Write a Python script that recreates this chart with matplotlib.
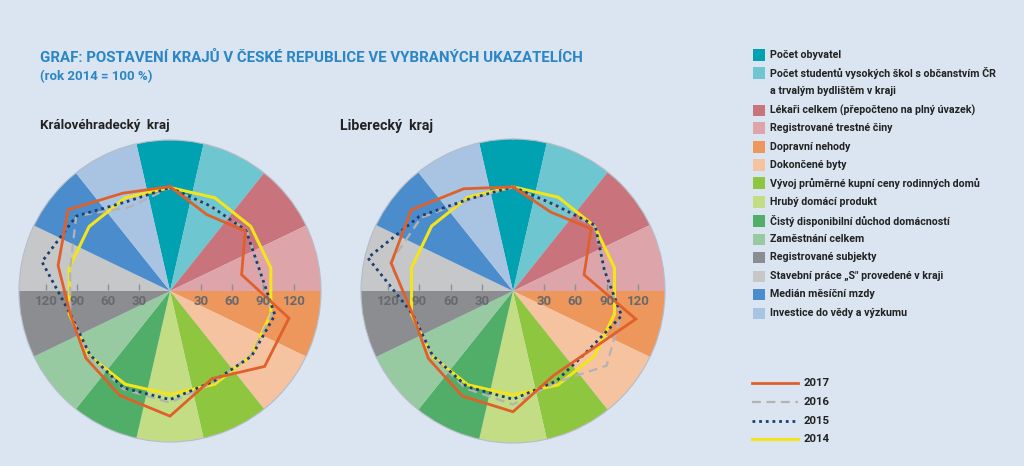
import numpy as np
import matplotlib
matplotlib.use('Agg')
import matplotlib.pyplot as plt
from matplotlib.patches import Rectangle
from matplotlib.lines import Line2D
import matplotlib.transforms as mtrans

plt.rcParams['font.family'] = ['Roboto', 'DejaVu Sans']

# kategorie (ukazatele) a barvy výsečí
kategorie = ['Počet obyvatel',
             'Počet studentů vysokých škol s občanstvím ČR\na trvalým bydlištěm v kraji',
             'Lékaři celkem (přepočteno na plný úvazek)',
             'Registrované trestné činy',
             'Dopravní nehody',
             'Dokončené byty',
             'Vývoj průměrné kupní ceny rodinných domů',
             'Hrubý domácí produkt',
             'Čistý disponibilní důchod domácností',
             'Zaměstnání celkem',
             'Registrované subjekty',
             'Stavební práce „S" provedené v kraji',
             'Medián měsíční mzdy',
             'Investice do vědy a výzkumu']
barvy = ['#00a1b1', '#6dc6d0', '#c9737c', '#dda5aa', '#ee975c', '#f6c3a0',
         '#8ec640', '#c3dd85', '#50ae69', '#98caa2', '#8b8d90', '#c6c7c9',
         '#4b8dcc', '#a9c3e2']

# Královéhradecký kraj (rok 2014 = 100 %)
hk_2017 = [101, 82, 93, 71, 118, 117, 94, 121, 112, 104, 99, 111, 126, 105]
hk_2016 = [100, 90, 95, 88, 101, 100, 98, 108, 105, 100, 99, 99, 116, 90]
hk_2015 = [100, 91, 94, 89, 104, 101, 97, 105, 104, 99, 99, 127, 116, 96]
hk_2014 = [100] * 14

# Liberecký kraj
lb_2017 = [100, 84, 96, 70, 121, 93, 90, 116, 112, 104, 99, 120, 125, 109]
lb_2016 = [100, 91, 100, 90, 106, 115, 97, 109, 104, 100, 99, 121, 113, 97]
lb_2015 = [100, 92, 101, 90, 107, 92, 96, 104, 102, 99, 99, 143, 115, 98]
lb_2014 = [100] * 14

roky = ['2017', '2016', '2015', '2014']
radial_ticks = [30, 60, 90, 120]

BG = '#dbe5f1'
RMAX = 146
W, H = 1024, 466

styly = {
    '2017': dict(color='#e0602b', lw=2.0, ls='-', zorder=6),
    '2016': dict(color='#b3b3b3', lw=1.6, ls=(0, (4, 2.5)), zorder=4),
    '2015': dict(color='#1c3e72', lw=2.0, ls=(0, (1, 1.4)), zorder=5),
    '2014': dict(color='#f4e41c', lw=2.2, ls='-', zorder=3),
}

fig = plt.figure(figsize=(W / 100, H / 100), dpi=100, facecolor=BG)
renderer = fig.canvas.get_renderer()


def fx(x):
    return x / W


def fy(y):
    return 1 - y / H


def fit_text(x, y, s, width_px, **kw):
    # velikost písma podle požadované šířky textu
    t = fig.text(fx(x), fy(y), s, fontsize=12, **kw)
    w = t.get_window_extent(renderer).width
    t.set_fontsize(12 * width_px / w)
    return t


def radar(cx, cy, rad, tx, nazev, nazev_w, serie):
    ax = fig.add_axes([fx(cx - rad), fy(cy + rad), 2 * rad / W, 2 * rad / H],
                      projection='polar')
    ax.set_facecolor(BG)
    ax.set_theta_zero_location('N')
    ax.set_theta_direction(-1)
    n = len(kategorie)
    theta = np.arange(n) * 2 * np.pi / n
    ax.bar(theta, [RMAX] * n, width=2 * np.pi / n, color=barvy,
           edgecolor='none', align='center', zorder=1)
    th = np.append(theta, theta[0])
    for rok, vals in zip(roky, serie):
        v = np.append(vals, vals[0])
        ax.plot(th, v, solid_joinstyle='miter', **styly[rok])
    ax.set_ylim(0, RMAX)
    ax.set_xticks([])
    ax.set_yticks([])
    ax.grid(False)
    ax.spines['polar'].set_color('#b5bcc6')
    ax.spines['polar'].set_linewidth(0.8)
    # popisky radiální osy na vodorovné ose
    t_lab = mtrans.offset_copy(ax.transData, fig=fig, x=0, y=-3, units='points')
    t_tick = mtrans.offset_copy(ax.transData, fig=fig, x=0, y=3, units='points')
    for r in radial_ticks:
        for a in [np.pi / 2, 3 * np.pi / 2]:
            ax.text(a, r, str(r), transform=t_lab, ha='center', va='top',
                    fontsize=9.5, color='#66696e', fontweight='bold', zorder=8)
            ax.plot([a], [r], marker='|', markersize=5, color='#8a8f96',
                    transform=t_tick, zorder=8, clip_on=False)
    fit_text(tx, 126, nazev, nazev_w, fontweight='bold', color='#222222',
             va='center', ha='left')
    return ax


radar(170, 291, 151, 40, 'Královéhradecký  kraj', 128, [hk_2017, hk_2016, hk_2015, hk_2014])
radar(513, 291, 152, 340, 'Liberecký  kraj', 92, [lb_2017, lb_2016, lb_2015, lb_2014])

fit_text(40, 58, 'GRAF: POSTAVENÍ KRAJŮ V ČESKÉ REPUBLICE VE VYBRANÝCH UKAZATELÍCH',
         540, fontweight='bold', color='#2a86c6', va='center', ha='left')
fit_text(40, 77, '(rok 2014 = 100 %)', 112, fontweight='bold', color='#2a86c6',
         va='center', ha='left')

# legenda ukazatelů
t = fig.text(0, 0, 'Počet studentů vysokých škol s občanstvím ČR', fontsize=12,
             fontweight='bold')
leg_fs = 12 * 226 / t.get_window_extent(renderer).width
t.remove()

leg_y = [55, 73, 110, 128, 147, 165, 183, 202, 221, 239, 257, 276, 294, 313]
for y, kat, c in zip(leg_y, kategorie, barvy):
    fig.add_artist(Rectangle((fx(753), fy(y + 5.5)), 12 / W, 11 / H,
                             transform=fig.transFigure, facecolor=c, edgecolor='none'))
    casti = kat.split('\n')
    for i, cast in enumerate(casti):
        fig.text(fx(770), fy(y + i * 18.5), cast, fontsize=leg_fs, fontweight='bold',
                 color='#222222', va='center', ha='left')

# legenda roků
rok_y = [383, 402, 421, 439]
for y, rok in zip(rok_y, roky):
    st = styly[rok]
    fig.add_artist(Line2D([fx(752), fx(798)], [fy(y), fy(y)], transform=fig.transFigure,
                          color=st['color'], lw=st['lw'], ls=st['ls']))
    fit_text(804, y, rok, 26, fontweight='bold', color='#222222', va='center', ha='left')

fig.savefig('out.png', dpi=100, facecolor=BG)
